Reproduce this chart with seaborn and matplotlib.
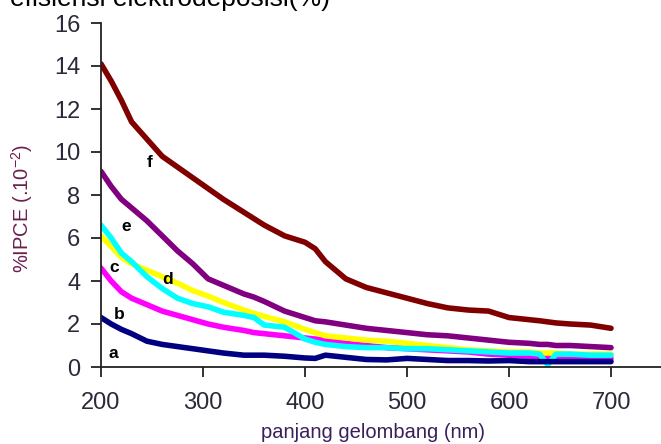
import numpy as np
import pandas as pd
import matplotlib
matplotlib.use('Agg')
import matplotlib.pyplot as plt
import seaborn as sns

# Data (%IPCE x 10^-2 vs wavelength)
wavelength = [200, 210, 220, 230, 245, 260, 275, 290, 305, 320, 340, 350, 360, 380, 400, 410,
              420, 440, 460, 480, 500, 520, 540, 560, 580, 600, 620, 630, 638, 646, 660, 680, 700]

ipce_a = [2.3, 2.0, 1.75, 1.55, 1.2, 1.05, 0.95, 0.85, 0.75, 0.65, 0.55, 0.55, 0.55, 0.5, 0.42, 0.4,
          0.55, 0.45, 0.35, 0.33, 0.4, 0.35, 0.3, 0.3, 0.28, 0.3, 0.25, 0.25, 0.25, 0.25, 0.25, 0.25, 0.25]
ipce_b = [4.6, 4.0, 3.5, 3.2, 2.9, 2.6, 2.4, 2.2, 2.0, 1.85, 1.7, 1.6, 1.55, 1.45, 1.35, 1.3,
          1.25, 1.1, 1.0, 0.9, 0.85, 0.8, 0.75, 0.7, 0.6, 0.55, 0.5, 0.5, 0.5, 0.45, 0.45, 0.4, 0.4]
ipce_c = [6.6, 6.0, 5.3, 4.9, 4.2, 3.65, 3.2, 2.95, 2.8, 2.55, 2.4, 2.3, 1.95, 1.85, 1.3, 1.15,
          1.05, 0.95, 0.9, 0.9, 0.85, 0.85, 0.8, 0.75, 0.7, 0.65, 0.65, 0.6, 0.1, 0.6, 0.6, 0.55, 0.55]
ipce_d = [6.1, 5.6, 5.1, 4.8, 4.5, 4.2, 3.9, 3.55, 3.3, 3.0, 2.65, 2.5, 2.35, 2.1, 1.75, 1.6,
          1.45, 1.35, 1.25, 1.2, 1.1, 1.0, 0.9, 0.8, 0.75, 0.7, 0.7, 0.65, 0.65, 0.65, 0.6, 0.6, 0.6]
ipce_e = [9.1, 8.4, 7.8, 7.4, 6.8, 6.1, 5.4, 4.8, 4.1, 3.8, 3.4, 3.25, 3.05, 2.6, 2.3, 2.15,
          2.1, 1.95, 1.8, 1.7, 1.6, 1.5, 1.45, 1.35, 1.25, 1.15, 1.1, 1.05, 1.05, 1.0, 1.0, 0.95, 0.9]
ipce_f = [14.1, 13.3, 12.4, 11.4, 10.6, 9.8, 9.3, 8.8, 8.3, 7.8, 7.2, 6.9, 6.6, 6.1, 5.8, 5.5,
          4.9, 4.1, 3.7, 3.45, 3.2, 2.95, 2.75, 2.65, 2.6, 2.3, 2.2, 2.15, 2.1, 2.05, 2.0, 1.95, 1.8]

series = {'a': ipce_a, 'b': ipce_b, 'c': ipce_c, 'd': ipce_d, 'e': ipce_e, 'f': ipce_f}
colors = {'a': '#000080', 'b': '#ff00ff', 'c': '#00ffff', 'd': '#ffff00', 'e': '#800080', 'f': '#800000'}

# curve letters and where they sit
label_names = ['a', 'b', 'c', 'd', 'e', 'f']
label_x = [212, 218, 213, 265, 225, 248]
label_y = [0.65, 2.45, 4.65, 4.05, 6.55, 9.5]

data = pd.concat(
    [pd.DataFrame({'wavelength': wavelength, 'ipce': vals, 'sampel': name}) for name, vals in series.items()],
    ignore_index=True)

sns.set_style('ticks')
plt.rcParams['font.family'] = ['Liberation Sans', 'DejaVu Sans']
plt.rcParams['mathtext.fontset'] = 'custom'
plt.rcParams['mathtext.rm'] = 'Liberation Sans'

fig = plt.figure(figsize=(6.61, 4.44), dpi=100)
ax = fig.add_axes([101 / 661, 1 - 367 / 444, 560 / 661, 344 / 444])

sns.lineplot(data=data, x='wavelength', y='ipce', hue='sampel',
             hue_order=['f', 'e', 'b', 'd', 'c', 'a'], palette=colors,
             linewidth=4, legend=False, ax=ax)

for name, lx, ly in zip(label_names, label_x, label_y):
    ax.text(lx, ly, name, fontsize=12.5, fontweight='bold', color='black',
            ha='center', va='center')

ax.set_xlim(200, 749)
ax.set_ylim(0, 16)
ax.set_xticks([200, 300, 400, 500, 600, 700])
ax.set_yticks(np.arange(0, 17, 2))
ax.tick_params(axis='both', direction='out', length=7, width=1.3, color='#222222',
               labelsize=17, labelcolor='#2a2a3a')
ax.tick_params(axis='x', pad=11)
ax.tick_params(axis='y', pad=8)
sns.despine(ax=ax)
for s in ['left', 'bottom']:
    ax.spines[s].set_linewidth(1.3)
    ax.spines[s].set_color('#222222')

ax.set_xlabel('')
ax.set_ylabel('')
fig.text(373 / 661, 1 - 432 / 444, 'panjang gelombang (nm)', fontsize=14.5,
         color='#3b1f5c', ha='center', va='center')
fig.text(22 / 661, 1 - 208 / 444, r'%IPCE (.10$^{\mathregular{-2}}$)', fontsize=14.5,
         color='#6a1f4f', ha='center', va='center', rotation=90)

# title line cut off at the top edge in the original
fig.text(10 / 661, 1 - 6 / 444, 'efisiensi elektrodeposisi(%)', fontsize=19,
         ha='left', va='baseline', color='black')

fig.savefig('out.png', dpi=100)
